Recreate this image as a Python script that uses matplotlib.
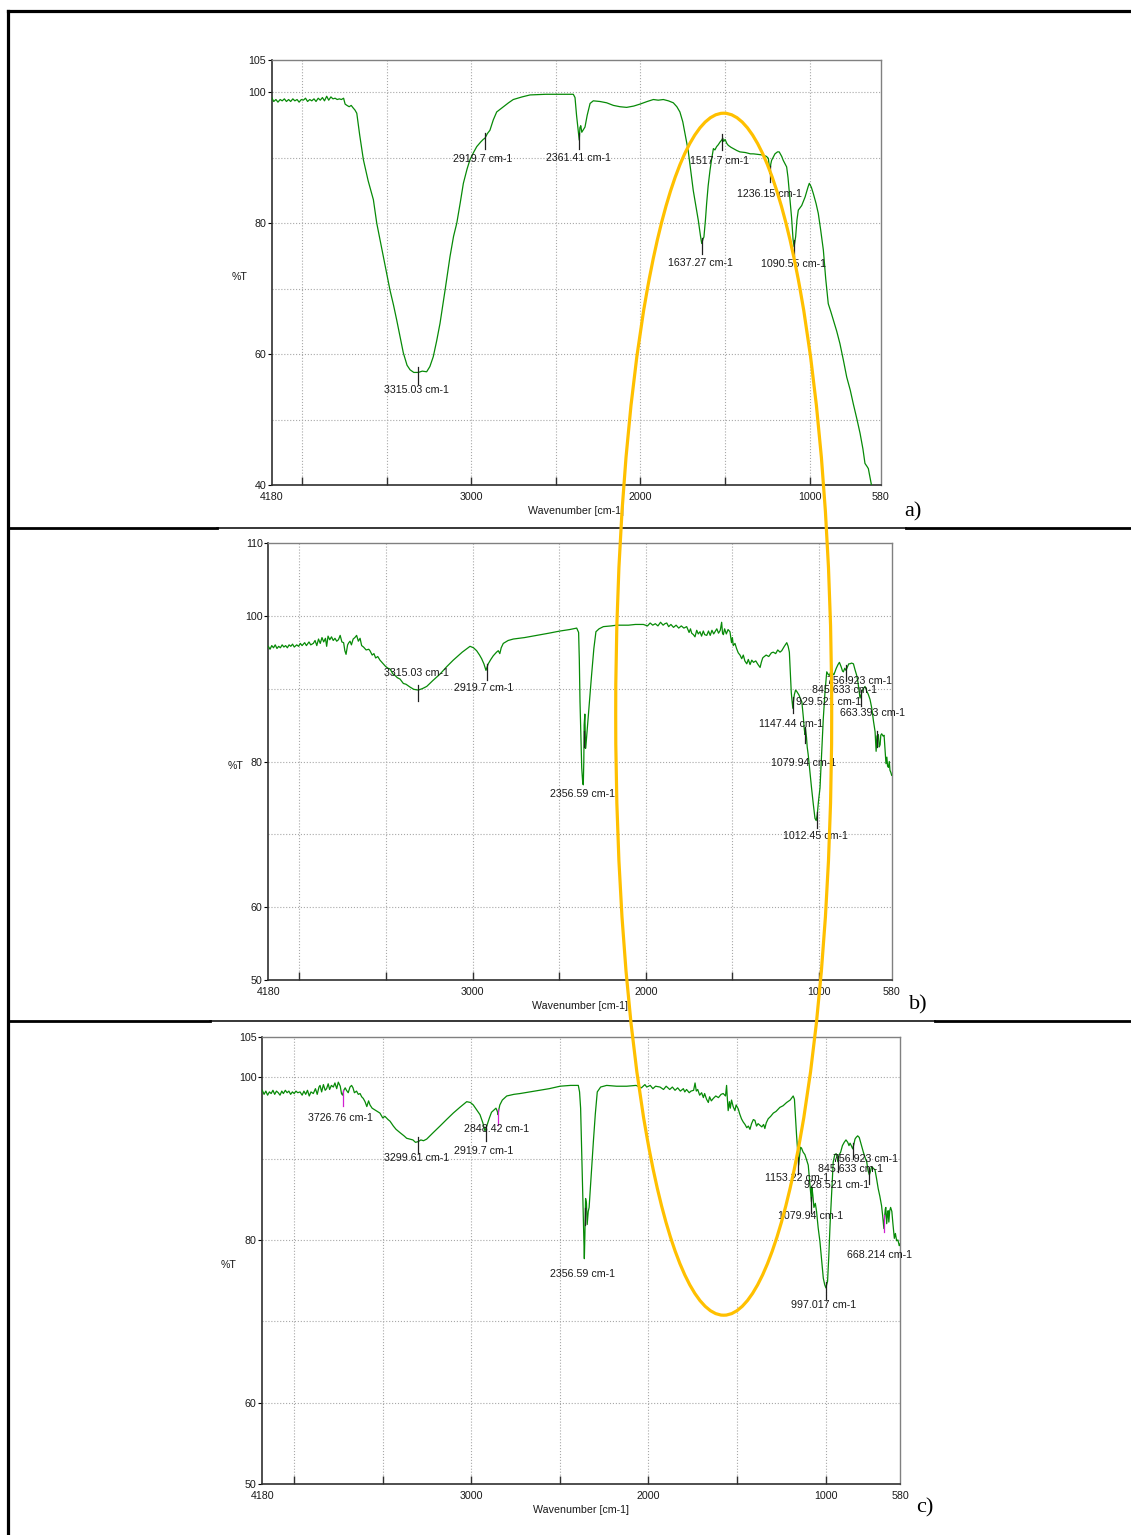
# -*- coding: utf-8 -*-

import numpy as np
import matplotlib
matplotlib.use('Agg')
import matplotlib.pyplot as plt
from matplotlib.patches import Ellipse
from matplotlib.lines import Line2D
from matplotlib.transforms import Bbox, TransformedBbox

W, H = 1131, 1535

#--------------------------- spectrum a) ---------------------------#
wn_a = [4180, 4168, 4155, 4143, 4130, 4118, 4105, 4093, 4080, 4068, 4055, 4043, 4030, 4018, 4005, 3993,
        3980, 3968, 3955, 3943, 3930, 3918, 3905, 3893, 3880, 3868, 3855, 3843, 3830, 3818, 3805, 3793,
        3780, 3768, 3755, 3746, 3735, 3722, 3710, 3698, 3688, 3677, 3660, 3638, 3610, 3579, 3559, 3540,
        3520, 3500, 3481, 3460, 3441, 3420, 3402, 3380, 3362, 3340, 3313, 3290, 3264, 3245, 3225, 3205,
        3185, 3155, 3126, 3105, 3086, 3065, 3047, 3025, 3008, 2985, 2968, 2945, 2930, 2919, 2905, 2890,
        2870, 2850, 2830, 2811, 2780, 2752, 2700, 2653, 2560, 2476, 2397, 2387, 2378, 2373, 2366, 2362,
        2358, 2353, 2347, 2340, 2328, 2315, 2298, 2279, 2240, 2200, 2160, 2121, 2082, 2040, 2003, 1960,
        1924, 1895, 1865, 1835, 1806, 1785, 1767, 1750, 1737, 1718, 1700, 1688, 1672, 1658, 1645, 1638,
        1630, 1625, 1616, 1609, 1600, 1589, 1578, 1569, 1560, 1550, 1540, 1530, 1520, 1514, 1508, 1500,
        1490, 1481, 1465, 1451, 1430, 1412, 1380, 1350, 1333, 1300, 1274, 1255, 1244, 1238, 1235, 1230,
        1225, 1205, 1190, 1180, 1165, 1156, 1136, 1128, 1121, 1107, 1098, 1092, 1083, 1075, 1067, 1047,
        1027, 1010, 1002, 990, 978, 962, 949, 935, 919, 905, 890, 875, 860, 840, 821, 800,
        781, 760, 742, 720, 702, 685, 673, 660, 653, 636, 620]
t_a = [99.2, 98.6, 98.9, 98.5, 98.9, 98.7, 99.0, 98.6, 98.9, 98.6, 99.0, 98.7, 98.9, 98.5, 98.9, 98.8,
       99.1, 98.6, 98.9, 98.7, 99.0, 98.6, 99.1, 98.8, 99.2, 98.7, 99.4, 98.8, 99.3, 99.0, 99.1, 98.9,
       99.0, 98.9, 99.1, 98.2, 98.0, 97.8, 98.0, 97.6, 97.3, 96.8, 93.5, 89.7, 86.5, 83.6, 80.0, 77.5,
       74.9, 72.3, 69.8, 67.5, 65.2, 62.5, 60.2, 58.3, 57.6, 57.2, 57.2, 57.4, 57.3, 58.1, 59.6, 62.0,
       64.7, 69.8, 74.9, 78.0, 80.0, 83.2, 86.1, 88.3, 89.7, 90.9, 91.7, 92.4, 92.8, 93.0, 93.7, 94.2,
       95.8, 97.0, 97.4, 97.8, 98.4, 98.9, 99.3, 99.6, 99.7, 99.7, 99.7, 99.2, 96.5, 95.3, 93.5, 92.7,
       94.6, 94.9, 93.9, 94.2, 94.7, 96.5, 98.3, 98.7, 98.6, 98.4, 98.0, 97.8, 97.7, 97.9, 98.2, 98.6,
       98.9, 98.8, 98.9, 98.7, 98.4, 97.8, 97.0, 95.5, 93.7, 91.1, 87.5, 85.0, 82.5, 80.4, 78.0, 76.9,
       77.6, 77.9, 80.5, 83.0, 85.7, 88.1, 90.0, 91.4, 91.2, 91.7, 92.0, 92.4, 92.7, 93.0, 92.5, 92.8,
       92.2, 91.9, 91.6, 91.4, 91.1, 90.9, 90.8, 90.6, 90.6, 90.5, 90.4, 90.2, 89.9, 88.5, 87.6, 89.0,
       89.6, 90.6, 90.9, 90.9, 90.2, 89.6, 88.6, 87.0, 85.0, 80.9, 77.5, 76.4, 77.9, 80.5, 82.0, 82.7,
       84.0, 85.5, 86.1, 85.5, 84.5, 83.0, 81.5, 79.0, 75.9, 71.5, 67.7, 66.5, 65.2, 63.5, 61.6, 59.0,
       56.5, 54.5, 52.4, 50.0, 47.9, 45.5, 43.3, 42.8, 42.5, 40.2, 38.0]
peaks_a = [3315.03, 2919.7, 2361.41, 1517.7, 1637.27, 1236.15, 1090.55]
lab_wn_a = [3323, 2931, 2369, 1530, 1644, 1239, 1097]
lab_t_a = [54.5, 89.8, 90.0, 89.5, 73.9, 84.4, 73.7]

#--------------------------- spectrum b) ---------------------------#
wn_b = [4180, 4170, 4160, 4150, 4140, 4130, 4120, 4110, 4100, 4090, 4080, 4070, 4060, 4050, 4040, 4030,
        4016, 4005, 3995, 3985, 3970, 3960, 3945, 3935, 3920, 3910, 3900, 3890, 3880, 3870, 3860, 3850,
        3843, 3835, 3825, 3815, 3805, 3795, 3785, 3775, 3765, 3755, 3745, 3738, 3731, 3722, 3715, 3708,
        3700, 3690, 3680, 3670, 3660, 3650, 3641, 3630, 3615, 3600, 3593, 3580, 3570, 3560, 3548, 3535,
        3520, 3505, 3490, 3477, 3460, 3448, 3435, 3419, 3400, 3385, 3361, 3340, 3314, 3290, 3265, 3230,
        3188, 3150, 3112, 3060, 3015, 2995, 2977, 2960, 2948, 2935, 2923, 2917, 2910, 2895, 2881, 2862,
        2852, 2843, 2835, 2823, 2795, 2765, 2700, 2630, 2560, 2495, 2440, 2399, 2388, 2384, 2380, 2375,
        2370, 2364, 2361, 2358, 2356, 2352, 2348, 2343, 2338, 2325, 2313, 2300, 2288, 2270, 2245, 2200,
        2168, 2100, 2060, 2014, 1990, 1975, 1960, 1945, 1930, 1915, 1900, 1890, 1879, 1868, 1855, 1840,
        1825, 1810, 1795, 1780, 1764, 1750, 1742, 1735, 1725, 1716, 1706, 1697, 1687, 1678, 1668, 1660,
        1648, 1638, 1628, 1618, 1608, 1600, 1590, 1580, 1570, 1562, 1557, 1552, 1545, 1535, 1525, 1514,
        1505, 1500, 1495, 1485, 1476, 1466, 1456, 1446, 1437, 1428, 1417, 1408, 1398, 1388, 1378, 1365,
        1352, 1340, 1333, 1325, 1321, 1305, 1290, 1275, 1264, 1250, 1238, 1225, 1215, 1200, 1186, 1178,
        1171, 1165, 1160, 1157, 1151, 1146, 1142, 1135, 1128, 1115, 1106, 1099, 1090, 1085, 1081, 1078,
        1072, 1068, 1062, 1052, 1043, 1033, 1023, 1016, 1010, 1003, 994, 985, 975, 965, 955, 948,
        940, 932, 927, 920, 914, 908, 900, 890, 882, 872, 864, 859, 851, 844, 835, 828,
        821, 812, 801, 792, 782, 775, 770, 763, 756, 750, 744, 734, 725, 715, 705, 695,
        685, 676, 670, 665, 657, 652, 647, 643, 638, 630, 624, 618, 613, 608, 604, 599,
        594, 590, 585, 580]
t_b = [95.8, 95.4, 95.9, 95.6, 96.0, 95.5, 95.8, 95.6, 96.0, 95.7, 95.9, 95.6, 96.0, 95.8, 96.1, 95.7,
       96.0, 95.8, 96.2, 95.9, 96.3, 95.9, 96.4, 96.0, 96.2, 96.6, 95.9, 96.8, 96.2, 97.0, 96.4, 96.9,
       95.8, 97.2, 96.7, 97.1, 96.6, 96.9, 96.5, 96.7, 97.3, 96.4, 96.3, 95.2, 94.7, 96.0, 96.3, 96.5,
       96.0, 96.8, 97.0, 97.3, 96.5, 96.9, 95.9, 95.7, 95.3, 95.4, 95.2, 94.6, 94.8, 94.2, 94.4, 93.9,
       93.5, 93.1, 92.8, 92.7, 92.0, 91.8, 91.5, 91.3, 90.7, 90.6, 90.2, 89.9, 89.8, 90.0, 90.3, 91.1,
       92.0, 93.0, 93.9, 95.0, 95.8, 95.6, 95.2, 94.6, 94.1, 93.4, 92.5, 92.9, 93.4, 94.0, 94.5, 95.0,
       95.2, 94.8, 95.6, 96.2, 96.6, 96.8, 97.0, 97.3, 97.6, 97.9, 98.1, 98.3, 97.7, 94.0, 88.2, 83.5,
       79.1, 77.0, 76.8, 80.0, 85.0, 86.5, 81.8, 83.0, 84.5, 88.5, 91.9, 95.5, 97.8, 98.2, 98.5, 98.6,
       98.7, 98.7, 98.8, 98.8, 98.6, 99.0, 98.7, 98.9, 98.6, 99.1, 98.7, 98.9, 99.0, 98.5, 98.8, 98.4,
       98.7, 98.3, 98.6, 98.3, 98.5, 97.7, 98.2, 97.6, 97.4, 97.1, 98.0, 97.5, 97.8, 97.2, 97.9, 97.4,
       97.3, 97.9, 97.3, 98.0, 97.5, 97.8, 98.2, 97.6, 98.0, 99.1, 97.6, 97.4, 98.2, 97.5, 98.1, 97.8,
       96.3, 97.0, 95.9, 96.2, 95.5, 94.9, 94.6, 94.1, 94.6, 93.8, 93.4, 94.0, 93.3, 93.9, 93.6, 93.8,
       93.3, 92.9, 93.6, 94.2, 94.3, 94.6, 94.4, 94.9, 95.0, 94.8, 95.3, 95.0, 95.2, 95.8, 96.3, 95.8,
       95.0, 92.0, 89.5, 88.7, 87.3, 88.5, 89.2, 89.8, 89.6, 89.1, 88.5, 88.2, 86.0, 84.5, 83.7, 84.5,
       83.3, 82.0, 80.9, 78.5, 76.4, 74.2, 72.2, 71.9, 72.7, 74.5, 76.4, 81.0, 85.9, 89.6, 92.3, 92.0,
       91.8, 92.3, 92.7, 92.0, 91.9, 92.3, 92.8, 93.3, 93.6, 93.0, 92.4, 92.3, 92.8, 92.5, 93.0, 93.4,
       93.4, 93.5, 93.4, 92.6, 91.8, 90.9, 90.0, 88.7, 89.2, 89.7, 90.0, 90.3, 89.7, 89.2, 88.5, 87.3,
       85.5, 84.1, 81.4, 83.5, 83.7, 82.0, 82.3, 83.6, 83.8, 83.5, 83.6, 81.5, 79.7, 80.6, 79.4, 79.2,
       80.0, 78.8, 78.5, 78.1]
peaks_b = [3315.03, 2919.7, 2356.59, 1147.44, 1079.94, 1012.45, 929.521, 845.633, 756.923, 663.393]
lab_wn_b = [3325, 2934, 2368, 1161, 1090, 1023, 942, 855, 955, 878]
lab_t_b = [92.1, 90.1, 75.5, 85.1, 79.8, 69.8, 88.2, 89.8, 91.0, 86.6]

#--------------------------- spectrum c) ---------------------------#
wn_c = [4180, 4170, 4160, 4150, 4140, 4130, 4120, 4110, 4100, 4090, 4080, 4070, 4061, 4050, 4040, 4030,
        4020, 4010, 4000, 3990, 3980, 3967, 3955, 3945, 3935, 3925, 3915, 3905, 3892, 3880, 3870, 3860,
        3854, 3845, 3835, 3825, 3817, 3808, 3800, 3790, 3779, 3770, 3760, 3751, 3740, 3733, 3727, 3720,
        3712, 3705, 3695, 3685, 3676, 3668, 3660, 3648, 3638, 3628, 3619, 3610, 3600, 3590, 3580, 3572,
        3560, 3545, 3530, 3516, 3500, 3488, 3470, 3459, 3440, 3425, 3403, 3380, 3365, 3347, 3330, 3315,
        3299, 3285, 3270, 3252, 3215, 3177, 3140, 3102, 3065, 3026, 3005, 2989, 2970, 2951, 2935, 2923,
        2916, 2910, 2898, 2886, 2861, 2853, 2849, 2845, 2839, 2825, 2800, 2760, 2725, 2670, 2612, 2560,
        2499, 2440, 2396, 2389, 2383, 2377, 2371, 2366, 2362, 2359, 2355, 2350, 2346, 2340, 2335, 2322,
        2311, 2300, 2289, 2270, 2236, 2180, 2123, 2070, 2040, 2020, 2010, 1990, 1975, 1960, 1935, 1915,
        1900, 1880, 1865, 1850, 1835, 1820, 1803, 1795, 1785, 1770, 1760, 1745, 1737, 1730, 1722, 1711,
        1700, 1690, 1683, 1672, 1662, 1655, 1645, 1634, 1620, 1605, 1590, 1578, 1565, 1559, 1555, 1550,
        1543, 1538, 1531, 1522, 1512, 1505, 1493, 1485, 1475, 1465, 1455, 1445, 1436, 1427, 1418, 1408,
        1399, 1390, 1381, 1371, 1360, 1350, 1343, 1335, 1324, 1310, 1295, 1280, 1258, 1240, 1220, 1200,
        1183, 1176, 1170, 1164, 1158, 1152, 1146, 1142, 1136, 1127, 1117, 1108, 1098, 1091, 1085, 1080,
        1077, 1072, 1066, 1058, 1051, 1042, 1032, 1022, 1013, 1005, 998, 993, 989, 982, 975, 970,
        966, 961, 957, 948, 940, 933, 929, 925, 915, 905, 895, 885, 875, 868, 862, 855,
        847, 840, 834, 828, 819, 810, 800, 787, 775, 768, 760, 753, 746, 740, 730, 721,
        712, 703, 694, 684, 678, 671, 668, 663, 660, 655, 650, 647, 643, 638, 633, 626,
        620, 612, 606, 599, 592, 584, 580]
t_c = [98.4, 97.9, 98.3, 97.8, 98.2, 98.0, 98.4, 97.9, 98.3, 98.1, 97.8, 98.3, 98.0, 98.4, 98.1, 98.3,
       97.9, 98.2, 98.0, 98.3, 98.1, 98.2, 97.8, 98.3, 97.9, 98.4, 97.7, 98.2, 98.0, 98.6, 97.9, 98.8,
       99.0, 98.2, 99.1, 98.4, 98.6, 99.2, 98.5, 99.0, 98.8, 99.3, 98.6, 99.4, 98.9, 98.0, 97.8, 98.4,
       98.7, 98.4, 98.1, 98.8, 99.0, 98.7, 98.1, 98.3, 97.9, 98.0, 97.6, 97.4, 97.0, 96.4, 97.1, 96.6,
       96.2, 96.0, 95.8, 95.6, 95.0, 95.2, 94.8, 94.6, 94.0, 93.6, 93.2, 92.8, 92.5, 92.4, 92.3, 92.0,
       92.1, 92.3, 92.2, 92.4, 93.2, 94.0, 94.8, 95.6, 96.3, 97.0, 96.9, 96.6, 96.0, 95.4, 94.4, 93.4,
       93.8, 94.2, 95.0, 95.7, 96.2, 95.8, 95.4, 96.0, 96.6, 97.2, 97.7, 97.9, 98.0, 98.2, 98.4, 98.6,
       98.9, 99.0, 99.0, 98.2, 96.2, 91.0, 85.9, 81.0, 77.7, 80.5, 85.1, 84.5, 81.9, 83.5, 84.0, 88.5,
       92.1, 95.5, 98.2, 98.8, 99.0, 98.9, 98.9, 99.0, 98.7, 99.1, 98.8, 99.0, 98.6, 98.9, 98.8, 98.5,
       98.9, 98.5, 98.8, 98.4, 98.7, 98.3, 98.6, 98.2, 98.5, 98.1, 98.3, 98.4, 99.3, 98.3, 98.5, 97.8,
       98.1, 97.5, 98.0, 97.3, 96.9, 97.6, 97.1, 97.4, 97.7, 97.5, 97.9, 98.0, 97.7, 99.0, 97.5, 95.9,
       97.0, 96.2, 97.2, 96.4, 95.9, 96.6, 96.1, 95.5, 94.9, 94.5, 94.2, 93.8, 94.0, 93.6, 94.3, 94.8,
       94.7, 94.0, 94.3, 94.1, 93.9, 94.2, 93.7, 94.4, 94.9, 95.2, 95.6, 95.8, 96.3, 96.5, 96.9, 97.2,
       97.7, 97.3, 95.0, 92.9, 91.0, 89.2, 90.5, 91.4, 91.3, 90.8, 90.5, 89.9, 89.2, 87.5, 85.9, 84.7,
       86.5, 85.5, 84.0, 84.5, 83.5, 81.5, 79.8, 77.5, 75.3, 74.5, 74.1, 74.6, 74.9, 78.0, 81.8, 84.0,
       85.9, 88.0, 89.6, 90.5, 90.6, 90.1, 89.6, 90.4, 90.8, 91.6, 92.0, 92.3, 92.0, 91.6, 91.9, 91.6,
       91.2, 91.8, 92.4, 92.6, 92.8, 92.6, 91.8, 90.8, 90.0, 89.6, 88.5, 88.0, 88.5, 89.0, 88.8, 88.6,
       87.5, 86.3, 85.4, 84.2, 83.0, 81.4, 82.5, 83.8, 84.0, 82.0, 83.3, 83.6, 82.2, 83.6, 84.0, 83.5,
       82.0, 80.2, 80.8, 79.9, 80.0, 79.3, 79.5]
peaks_c = [3726.76, 3299.61, 2848.42, 2919.7, 2356.59, 1153.22, 928.521, 845.633, 756.923,
           1079.94, 997.017, 668.214]
lab_wn_c = [3739, 3308, 2855, 2930, 2370, 1162, 937, 860, 960, 1085, 1009, 878]
lab_t_c = [95.0, 90.1, 93.7, 90.9, 75.8, 87.6, 86.7, 88.7, 90.0, 83.0, 72.0, 78.2]

# labels that run out of the plot box get cut (extra pixels allowed to the right)
cut_b = {756.923: 0, 663.393: 14}
cut_c = {756.923: 0, 668.214: 14}
pink = [3726.76, 2848.42, 668.214]

plt.rcParams['font.family'] = ['Liberation Sans', 'DejaVu Sans']
fontsize = 7.7
txt_col = '#1a1a1a'


def px_rect(left, top, right, bottom):
    return [left/W, 1 - bottom/H, (right - left)/W, (bottom - top)/H]


def draw_panel(fig, rect, wn, t, ylim, ylab, ygrid, peaks, lab_wn, lab_t, mark, cut={}):
    ax = fig.add_axes(rect)
    ax.plot(wn, t, '-', color='#078a07', lw=0.9, zorder=3)
    ax.set_xlim(4180, 580)
    ax.set_ylim(ylim)
    # keep grid lines / inner ticks also where a labelled tick sits
    ax.xaxis.remove_overlapping_locs = False
    ax.yaxis.remove_overlapping_locs = False
    # x: labelled ticks at the ends and every 1000, small inner ticks every 500
    ax.set_xticks([4180, 3000, 2000, 1000, 580])
    ax.set_xticklabels(['4180', '3000', '2000', '1000', '580'])
    ax.set_xticks([4000, 3500, 3000, 2500, 2000, 1500, 1000], minor=True)
    ax.tick_params(axis='x', which='major', length=0, pad=5, labelsize=fontsize, labelcolor=txt_col)
    ax.tick_params(axis='x', which='minor', direction='in', length=6, width=1.0, color='#303030')
    ax.set_yticks(ylab)
    ax.set_yticks(ygrid, minor=True)
    ax.tick_params(axis='y', which='major', length=3, width=0.8, pad=1, labelsize=fontsize, labelcolor=txt_col)
    ax.tick_params(axis='y', which='minor', length=0)
    ax.grid(which='minor', ls=':', color='#a8a8a8', lw=0.8)
    for s in ['left', 'bottom']:
        ax.spines[s].set_color('#303030')
        ax.spines[s].set_linewidth(1.2)
    for s in ['top', 'right']:
        ax.spines[s].set_color('#808080')
        ax.spines[s].set_linewidth(1.0)
    ax.set_xlabel('Wavenumber [cm-1]', fontsize=fontsize, color=txt_col, labelpad=3)
    ax.text(-0.053, 0.49, '%T', transform=ax.transAxes, ha='center', va='center',
            fontsize=fontsize, color=txt_col)
    # peak picks: small vertical mark on the trace and the value below it
    wn_r = np.array(wn)[::-1]
    t_r = np.array(t)[::-1]
    for i in range(len(peaks)):
        t0 = np.interp(peaks[i], wn_r, t_r)
        col = '#d020d0' if peaks[i] in pink else '#202020'
        ax.plot([peaks[i], peaks[i]], [t0 + mark[0], t0 - mark[1]], '-', color=col, lw=0.9, zorder=4)
        name = '{} cm-1'.format(peaks[i])
        if peaks[i] in cut:
            txt = ax.text(lab_wn[i], lab_t[i], name, ha='left', va='center', fontsize=fontsize,
                          color=txt_col, zorder=5)
            ext = cut[peaks[i]] / (rect[2]*W)
            txt.set_clip_box(TransformedBbox(Bbox([[0, 0], [1 + ext, 1]]), ax.transAxes))
            txt.set_clip_on(True)
        else:
            ax.text(lab_wn[i], lab_t[i], name, ha='center', va='center', fontsize=fontsize,
                    color=txt_col, zorder=5)
    return ax


fig = plt.figure(figsize=(W/100, H/100), dpi=100)

draw_panel(fig, px_rect(271.7, 59.6, 880.7, 485.0), wn_a, t_a, (40, 105), [105, 100, 80, 60, 40],
           [50, 60, 70, 80, 90, 100], peaks_a, lab_wn_a, lab_t_a, (0.8, 1.7))
draw_panel(fig, px_rect(268.3, 542.8, 891.7, 980.2), wn_b, t_b, (50, 110), [110, 100, 80, 60, 50],
           [60, 70, 80, 90, 100], peaks_b, lab_wn_b, lab_t_b, (0.7, 1.5), cut_b)
draw_panel(fig, px_rect(262.3, 1036.6, 900.0, 1484.0), wn_c, t_c, (50, 105), [105, 100, 80, 60, 50],
           [60, 70, 80, 90, 100], peaks_c, lab_wn_c, lab_t_c, (0.6, 1.4), cut_c)

# frame lines of the surrounding table
def hline(x0, x1, y, lw):
    fig.add_artist(Line2D([x0/W, x1/W], [1 - y/H, 1 - y/H], transform=fig.transFigure, color='k', lw=lw))

hline(8, 1131, 11, 2.3)
fig.add_artist(Line2D([8/W, 8/W], [1 - 11/H, 0], transform=fig.transFigure, color='k', lw=2.3))
hline(8, 217, 527.7, 2.0)
hline(217, 906, 528.3, 1.1)
hline(906, 1131, 528.3, 2.0)
hline(8, 210, 1020.7, 2.0)
hline(210, 935, 1021.2, 1.1)
hline(935, 1131, 1021.2, 2.0)

fig.text(913/W, 1 - 512/H, 'a)', family='Liberation Serif', fontsize=16, ha='center', va='center')
fig.text(918/W, 1 - 1005/H, 'b)', family='Liberation Serif', fontsize=16, ha='center', va='center')
fig.text(925/W, 1 - 1508/H, 'c)', family='Liberation Serif', fontsize=16, ha='center', va='center')

# highlighted region across the three spectra
ell = Ellipse((723.7/W, 1 - 714.2/H), 216/W, 1202/H, transform=fig.transFigure,
              fill=False, ec='#FFC000', lw=2.3, zorder=20)
fig.add_artist(ell)

fig.savefig('out.png', dpi=100)
